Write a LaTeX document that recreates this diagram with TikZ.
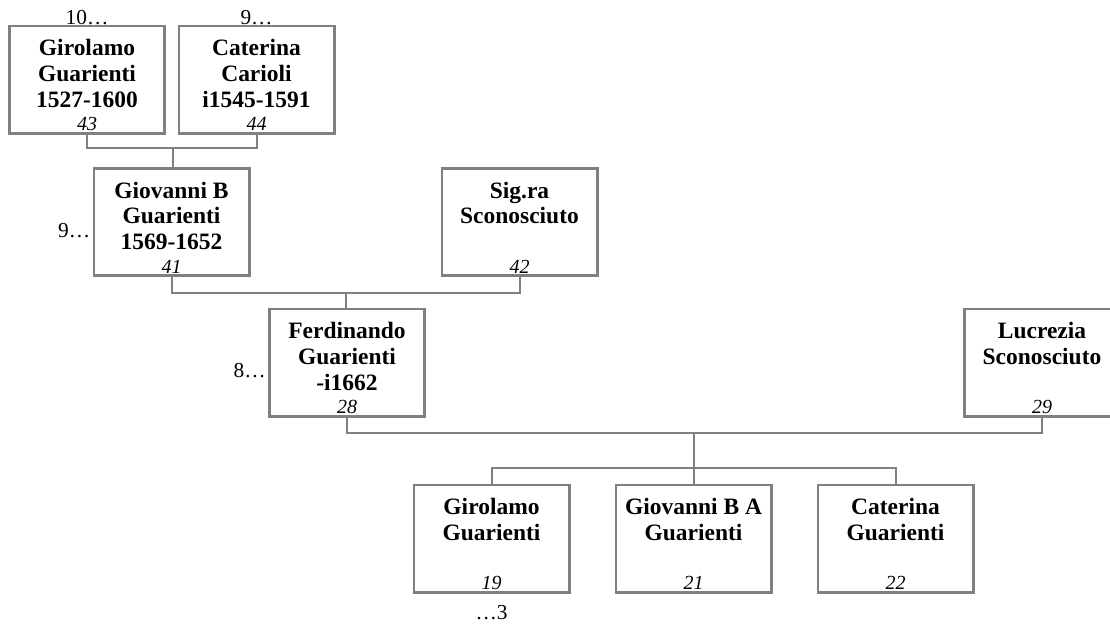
\documentclass[tikz,border=0pt]{standalone}
\usepackage{fontspec}
\setmainfont{Liberation Serif}
\usetikzlibrary{positioning}

\begin{document}
\begin{tikzpicture}[
  x=0.75pt, y=-0.75pt,
  box/.style={draw=gray, line width=1.9pt, minimum width=116.6pt, minimum height=80.6pt,
              inner sep=0pt},
  who/.style={align=center, inner sep=0pt, font=\fontsize{17.6pt}{19.3pt}\selectfont\bfseries},
  num/.style={inner sep=0pt, font=\fontsize{15pt}{17pt}\selectfont\itshape},
  gen/.style={inner sep=0pt, font=\fontsize{16pt}{18pt}\selectfont},
  link/.style={draw=gray, line width=1.5pt}
]
  \useasboundingbox (0,0) rectangle (1110,626);

  \node[box] (p43) at (87,79.5) {};
  \node[box] (p44) at (256.5,79.5) {};
  \node[box] (p41) at (171.5,222) {};
  \node[box] (p42) at (519.5,222) {};
  \node[box] (p28) at (347,362.5) {};
  \node[box] (p29) at (1042,362.5) {};
  \node[box] (p19) at (491.5,538.5) {};
  \node[box] (p21) at (693.5,538.5) {};
  \node[box] (p22) at (895.5,538.5) {};

  \node[who, below=11pt of p43.north] (n43) {Girolamo\\Guarienti\\1527-1600};
  \node[who, below=11pt of p44.north] (n44) {Caterina\\Carioli\\i1545-1591};
  \node[who, below=11pt of p41.north] (n41) {Giovanni B\\Guarienti\\1569-1652};
  \node[who, below=11pt of p42.north] (n42) {Sig.ra\\Sconosciuto};
  \node[who, below=11pt of p28.north] (n28) {Ferdinando\\Guarienti\\-i1662};
  \node[who, below=11pt of p29.north] (n29) {Lucrezia\\Sconosciuto};
  \node[who, below=11pt of p19.north] (n19) {Girolamo\\Guarienti};
  \node[who, below=11pt of p21.north] (n21) {Giovanni B A\\Guarienti};
  \node[who, below=11pt of p22.north] (n22) {Caterina\\Guarienti};

  \node[num, above=2.5pt of p43.south] (k43) {43};
  \node[num, above=2.5pt of p44.south] (k44) {44};
  \node[num, above=2.5pt of p41.south] (k41) {41};
  \node[num, above=2.5pt of p42.south] (k42) {42};
  \node[num, above=2.5pt of p28.south] (k28) {28};
  \node[num, above=2.5pt of p29.south] (k29) {29};
  \node[num, above=2.5pt of p19.south] (k19) {19};
  \node[num, above=2.5pt of p21.south] (k21) {21};
  \node[num, above=2.5pt of p22.south] (k22) {22};

  \node[gen, anchor=base] (g43) at (p43.north) {10…};
  \node[gen, anchor=base] (g44) at (p44.north) {9…};
  \node[gen, anchor=base east] (g41) at ([xshift=-1.5pt,yshift=-11.25pt]p41.west) {9…};
  \node[gen, anchor=base east] (g28) at ([xshift=-1.5pt,yshift=-11.25pt]p28.west) {8…};
  \node[gen, anchor=base] (g19) at ([yshift=-19.5pt]p19.south) {…3};

  \coordinate (u1) at (172.5,148);
  \coordinate (u2) at (346,293);
  \coordinate (u3) at (693.5,433);
  \coordinate (s1) at (693.5,468);

  \draw[link] (p43.south) |- (u1) -| (p44.south);
  \draw[link] (u1) -- (u1 |- p41.north);
  \draw[link] (p41.south) |- (u2) -| (p42.south);
  \draw[link] (u2) -- (u2 |- p28.north);
  \draw[link] (p28.south) |- (u3) -| (p29.south);
  \draw[link] (u3) -- (s1);
  \draw[link] (p19.north) |- (s1) -| (p22.north);
  \draw[link] (s1) -- (p21.north);
\end{tikzpicture}
\end{document}
